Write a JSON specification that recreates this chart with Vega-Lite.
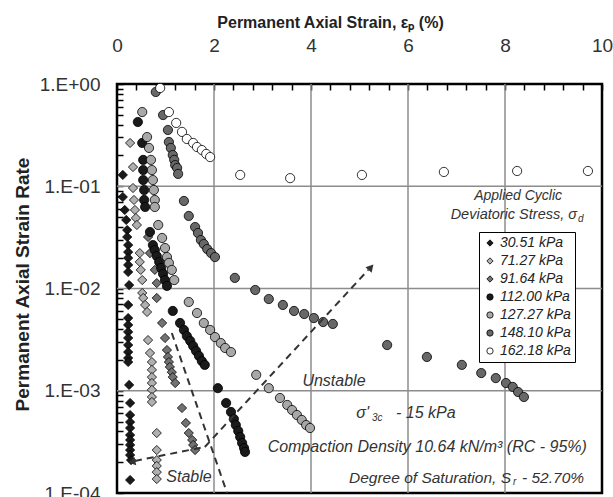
{
"$schema":"https://vega.github.io/schema/vega-lite/v6.json",
"width":485,"height":409,"autosize":"none",
"padding":{"left":117,"top":84,"right":11,"bottom":4},
"config":{"view":{"stroke":"#000","strokeWidth":2.5},"font":"Liberation Sans","axis":{"labelOverlap":false}},
"datasets":{
"pts":[
{"s":"30.51 kPa","x":0.12,"y":0.129},{"s":"30.51 kPa","x":0.12,"y":0.0785},{"s":"30.51 kPa","x":0.16,"y":0.0586},{"s":"30.51 kPa","x":0.19,"y":0.0468},{"s":"30.51 kPa","x":0.21,"y":0.0373},{"s":"30.51 kPa","x":0.21,"y":0.0319},{"s":"30.51 kPa","x":0.23,"y":0.0266},{"s":"30.51 kPa","x":0.23,"y":0.0227},{"s":"30.51 kPa","x":0.23,"y":0.0199},{"s":"30.51 kPa","x":0.23,"y":0.017},{"s":"30.51 kPa","x":0.23,"y":0.0145},{"s":"30.51 kPa","x":0.25,"y":0.0108},{"s":"30.51 kPa","x":0.23,"y":0.0069},{"s":"30.51 kPa","x":0.23,"y":0.00514},{"s":"30.51 kPa","x":0.23,"y":0.0044},{"s":"30.51 kPa","x":0.23,"y":0.00376},{"s":"30.51 kPa","x":0.23,"y":0.00328},{"s":"30.51 kPa","x":0.23,"y":0.0028},{"s":"30.51 kPa","x":0.23,"y":0.00239},{"s":"30.51 kPa","x":0.23,"y":0.00209},{"s":"30.51 kPa","x":0.23,"y":0.00191},{"s":"30.51 kPa","x":0.25,"y":0.00114},{"s":"30.51 kPa","x":0.27,"y":0.000759},{"s":"30.51 kPa","x":0.27,"y":0.000579},{"s":"30.51 kPa","x":0.27,"y":0.000494},{"s":"30.51 kPa","x":0.27,"y":0.000432},{"s":"30.51 kPa","x":0.27,"y":0.000369},{"s":"30.51 kPa","x":0.27,"y":0.00033},{"s":"30.51 kPa","x":0.27,"y":0.000295},{"s":"30.51 kPa","x":0.27,"y":0.000263},{"s":"30.51 kPa","x":0.27,"y":0.000235},{"s":"30.51 kPa","x":0.29,"y":0.00021},{"s":"30.51 kPa","x":0.27,"y":0.000134},
{"s":"71.27 kPa","x":0.27,"y":0.265},{"s":"71.27 kPa","x":0.33,"y":0.154},{"s":"71.27 kPa","x":0.33,"y":0.0961},{"s":"71.27 kPa","x":0.35,"y":0.0734},{"s":"71.27 kPa","x":0.37,"y":0.0586},{"s":"71.27 kPa","x":0.39,"y":0.0489},{"s":"71.27 kPa","x":0.41,"y":0.0418},{"s":"71.27 kPa","x":0.47,"y":0.0222},{"s":"71.27 kPa","x":0.47,"y":0.0182},{"s":"71.27 kPa","x":0.49,"y":0.0152},{"s":"71.27 kPa","x":0.52,"y":0.0121},{"s":"71.27 kPa","x":0.52,"y":0.00904},{"s":"71.27 kPa","x":0.54,"y":0.00808},{"s":"71.27 kPa","x":0.58,"y":0.0069},{"s":"71.27 kPa","x":0.62,"y":0.00589},{"s":"71.27 kPa","x":0.64,"y":0.00313},{"s":"71.27 kPa","x":0.68,"y":0.00234},{"s":"71.27 kPa","x":0.72,"y":0.00191},{"s":"71.27 kPa","x":0.72,"y":0.0016},{"s":"71.27 kPa","x":0.72,"y":0.00136},{"s":"71.27 kPa","x":0.72,"y":0.00119},{"s":"71.27 kPa","x":0.72,"y":0.00102},{"s":"71.27 kPa","x":0.72,"y":0.000869},{"s":"71.27 kPa","x":0.72,"y":0.000776},{"s":"71.27 kPa","x":0.82,"y":0.000386},{"s":"71.27 kPa","x":0.82,"y":0.000263},{"s":"71.27 kPa","x":0.82,"y":0.00021},{"s":"71.27 kPa","x":0.82,"y":0.000184},{"s":"71.27 kPa","x":0.82,"y":0.00016},{"s":"71.27 kPa","x":0.82,"y":0.000137},
{"s":"91.64 kPa","x":0.64,"y":0.0319},{"s":"91.64 kPa","x":0.68,"y":0.0222},{"s":"91.64 kPa","x":0.78,"y":0.0152},{"s":"91.64 kPa","x":0.82,"y":0.0113},{"s":"91.64 kPa","x":0.82,"y":0.00808},{"s":"91.64 kPa","x":0.93,"y":0.0046},{"s":"91.64 kPa","x":0.99,"y":0.00328},{"s":"91.64 kPa","x":1.03,"y":0.0025},{"s":"91.64 kPa","x":1.05,"y":0.00214},{"s":"91.64 kPa","x":1.07,"y":0.00191},{"s":"91.64 kPa","x":1.09,"y":0.00171},{"s":"91.64 kPa","x":1.13,"y":0.00152},{"s":"91.64 kPa","x":1.15,"y":0.00136},{"s":"91.64 kPa","x":1.2,"y":0.00119},{"s":"91.64 kPa","x":1.34,"y":0.000678},{"s":"91.64 kPa","x":1.42,"y":0.000484},{"s":"91.64 kPa","x":1.48,"y":0.000386},{"s":"91.64 kPa","x":1.55,"y":0.00033},{"s":"91.64 kPa","x":1.57,"y":0.000295},{"s":"91.64 kPa","x":1.61,"y":0.000263},
{"s":"112.00 kPa","x":0.43,"y":0.425},{"s":"112.00 kPa","x":0.52,"y":0.265},{"s":"112.00 kPa","x":0.54,"y":0.181},{"s":"112.00 kPa","x":0.54,"y":0.144},{"s":"112.00 kPa","x":0.54,"y":0.115},{"s":"112.00 kPa","x":0.56,"y":0.0919},{"s":"112.00 kPa","x":0.56,"y":0.0734},{"s":"112.00 kPa","x":0.58,"y":0.0627},{"s":"112.00 kPa","x":0.68,"y":0.0357},{"s":"112.00 kPa","x":0.74,"y":0.0266},{"s":"112.00 kPa","x":0.78,"y":0.0238},{"s":"112.00 kPa","x":0.82,"y":0.0208},{"s":"112.00 kPa","x":0.87,"y":0.0182},{"s":"112.00 kPa","x":0.91,"y":0.0159},{"s":"112.00 kPa","x":0.95,"y":0.0139},{"s":"112.00 kPa","x":0.99,"y":0.0121},{"s":"112.00 kPa","x":1.03,"y":0.0106},{"s":"112.00 kPa","x":1.15,"y":0.00603},{"s":"112.00 kPa","x":1.3,"y":0.0046},{"s":"112.00 kPa","x":1.38,"y":0.00393},{"s":"112.00 kPa","x":1.44,"y":0.00343},{"s":"112.00 kPa","x":1.51,"y":0.00307},{"s":"112.00 kPa","x":1.57,"y":0.00274},{"s":"112.00 kPa","x":1.63,"y":0.00245},{"s":"112.00 kPa","x":1.69,"y":0.00219},{"s":"112.00 kPa","x":1.75,"y":0.00195},{"s":"112.00 kPa","x":1.81,"y":0.00179},{"s":"112.00 kPa","x":2.08,"y":0.00106},{"s":"112.00 kPa","x":2.25,"y":0.000759},{"s":"112.00 kPa","x":2.35,"y":0.00062},{"s":"112.00 kPa","x":2.41,"y":0.000529},{"s":"112.00 kPa","x":2.45,"y":0.000462},{"s":"112.00 kPa","x":2.5,"y":0.000404},{"s":"112.00 kPa","x":2.54,"y":0.000353},{"s":"112.00 kPa","x":2.58,"y":0.000308},{"s":"112.00 kPa","x":2.62,"y":0.000275},{"s":"112.00 kPa","x":2.64,"y":0.000252},
{"s":"127.27 kPa","x":0.52,"y":0.532},{"s":"127.27 kPa","x":0.62,"y":0.303},{"s":"127.27 kPa","x":0.66,"y":0.237},{"s":"127.27 kPa","x":0.7,"y":0.181},{"s":"127.27 kPa","x":0.72,"y":0.144},{"s":"127.27 kPa","x":0.74,"y":0.115},{"s":"127.27 kPa","x":0.76,"y":0.0919},{"s":"127.27 kPa","x":0.78,"y":0.0734},{"s":"127.27 kPa","x":0.78,"y":0.0627},{"s":"127.27 kPa","x":0.85,"y":0.0418},{"s":"127.27 kPa","x":0.93,"y":0.0312},{"s":"127.27 kPa","x":0.99,"y":0.0249},{"s":"127.27 kPa","x":1.03,"y":0.0203},{"s":"127.27 kPa","x":1.07,"y":0.0178},{"s":"127.27 kPa","x":1.13,"y":0.0152},{"s":"127.27 kPa","x":1.18,"y":0.0121},{"s":"127.27 kPa","x":1.48,"y":0.00738},{"s":"127.27 kPa","x":1.65,"y":0.00576},{"s":"127.27 kPa","x":1.79,"y":0.0046},{"s":"127.27 kPa","x":1.92,"y":0.00393},{"s":"127.27 kPa","x":2.02,"y":0.00335},{"s":"127.27 kPa","x":2.14,"y":0.00293},{"s":"127.27 kPa","x":2.23,"y":0.00262},{"s":"127.27 kPa","x":2.35,"y":0.00239},{"s":"127.27 kPa","x":2.87,"y":0.00143},{"s":"127.27 kPa","x":3.13,"y":0.00106},{"s":"127.27 kPa","x":3.36,"y":0.000849},{"s":"127.27 kPa","x":3.51,"y":0.000726},{"s":"127.27 kPa","x":3.61,"y":0.000648},{"s":"127.27 kPa","x":3.71,"y":0.000579},{"s":"127.27 kPa","x":3.81,"y":0.000518},{"s":"127.27 kPa","x":3.9,"y":0.000462},{"s":"127.27 kPa","x":3.98,"y":0.000432},
{"s":"148.10 kPa","x":0.8,"y":0.835},{"s":"148.10 kPa","x":0.95,"y":0.497},{"s":"148.10 kPa","x":1.05,"y":0.355},{"s":"148.10 kPa","x":1.07,"y":0.271},{"s":"148.10 kPa","x":1.11,"y":0.237},{"s":"148.10 kPa","x":1.15,"y":0.202},{"s":"148.10 kPa","x":1.18,"y":0.181},{"s":"148.10 kPa","x":1.2,"y":0.161},{"s":"148.10 kPa","x":1.24,"y":0.151},{"s":"148.10 kPa","x":1.26,"y":0.132},{"s":"148.10 kPa","x":1.38,"y":0.0718},{"s":"148.10 kPa","x":1.48,"y":0.0512},{"s":"148.10 kPa","x":1.61,"y":0.0399},{"s":"148.10 kPa","x":1.67,"y":0.0349},{"s":"148.10 kPa","x":1.73,"y":0.0298},{"s":"148.10 kPa","x":1.79,"y":0.0272},{"s":"148.10 kPa","x":1.86,"y":0.0243},{"s":"148.10 kPa","x":1.94,"y":0.0222},{"s":"148.10 kPa","x":2.02,"y":0.0203},{"s":"148.10 kPa","x":2.43,"y":0.0127},{"s":"148.10 kPa","x":2.85,"y":0.00967},{"s":"148.10 kPa","x":3.13,"y":0.00789},{"s":"148.10 kPa","x":3.42,"y":0.0069},{"s":"148.10 kPa","x":3.65,"y":0.00603},{"s":"148.10 kPa","x":3.86,"y":0.00563},{"s":"148.10 kPa","x":4.06,"y":0.00514},{"s":"148.10 kPa","x":4.25,"y":0.0047},{"s":"148.10 kPa","x":4.45,"y":0.0045},{"s":"148.10 kPa","x":5.57,"y":0.0028},{"s":"148.10 kPa","x":6.39,"y":0.00214},{"s":"148.10 kPa","x":7.11,"y":0.00179},{"s":"148.10 kPa","x":7.51,"y":0.00149},{"s":"148.10 kPa","x":7.81,"y":0.00133},{"s":"148.10 kPa","x":8.02,"y":0.00119},{"s":"148.10 kPa","x":8.16,"y":0.00109},{"s":"148.10 kPa","x":8.27,"y":0.000972},{"s":"148.10 kPa","x":8.39,"y":0.000869},
{"s":"162.18 kPa","x":0.89,"y":0.914},{"s":"162.18 kPa","x":1.07,"y":0.532},{"s":"162.18 kPa","x":1.22,"y":0.416},{"s":"162.18 kPa","x":1.34,"y":0.34},{"s":"162.18 kPa","x":1.44,"y":0.29},{"s":"162.18 kPa","x":1.57,"y":0.265},{"s":"162.18 kPa","x":1.65,"y":0.242},{"s":"162.18 kPa","x":1.75,"y":0.226},{"s":"162.18 kPa","x":1.84,"y":0.207},{"s":"162.18 kPa","x":1.92,"y":0.193},{"s":"162.18 kPa","x":2.54,"y":0.129},{"s":"162.18 kPa","x":3.57,"y":0.12},{"s":"162.18 kPa","x":5.05,"y":0.129},{"s":"162.18 kPa","x":6.74,"y":0.138},{"s":"162.18 kPa","x":8.25,"y":0.141},{"s":"162.18 kPa","x":9.71,"y":0.141}
],
"grid":[{"g":"x2","x":2,"y":0.0001},{"g":"x2","x":2,"y":1},{"g":"x4","x":4,"y":0.0001},{"g":"x4","x":4,"y":1},{"g":"x6","x":6,"y":0.0001},{"g":"x6","x":6,"y":1},{"g":"x8","x":8,"y":0.0001},{"g":"x8","x":8,"y":1},{"g":"y1","x":0,"y":0.1},{"g":"y1","x":10,"y":0.1},{"g":"y2","x":0,"y":0.01},{"g":"y2","x":10,"y":0.01},{"g":"y3","x":0,"y":0.001},{"g":"y3","x":10,"y":0.001}],
"ln":[{"g":"a","x":2.27,"y":0.0001},{"g":"a","x":1.13,"y":0.00367},{"g":"b","x":1.81,"y":0.000282},{"g":"b","x":0.37,"y":0.000206},{"g":"c","x":1.81,"y":0.000282},{"g":"c","x":5.18,"y":0.0152}],
"ah1":[{"x":0.33,"y":0.000203}],
"ah2":[{"x":5.22,"y":0.0158}],
"c16":[{"t":"Unstable","x":4.474,"y":0.00125},{"t":"Compaction Density 10.64 kN/m³ (RC - 95%)","x":6.397,"y":0.000282},{"t":"Stable","x":1.485,"y":0.000143}],
"c14":[{"t":"Applied Cyclic","x":8.27,"y":0.0803}],
"r14":[{"t":"Deviatoric Stress, σ","x":9.485,"y":0.0523}],
"r16":[{"t":"σ'","x":5.196,"y":0.000605}],
"r155":[{"t":"Degree of Saturation, S","x":8.124,"y":0.00014}],
"sub":[{"t":"d","x":9.505,"y":0.0478},{"t":"3c","x":5.258,"y":0.000541},{"t":"r","x":8.165,"y":0.000128}],
"l16":[{"t":"- 15 kPa","x":5.753,"y":0.000605}],
"l155":[{"t":"- 52.70%","x":8.351,"y":0.00014}]
},
"encoding":{
"x":{"field":"x","type":"quantitative","scale":{"domain":[0,10],"nice":false,"zero":false},
"axis":{"orient":"top","title":"Permanent Axial Strain, εₚ (%)","values":[0,0.4,0.8,1.2,1.6,2,2.4,2.8,3.2,3.6,4,4.4,4.8,5.2,5.6,6,6.4,6.8,7.2,7.6,8,8.4,8.8,9.2,9.6,10],
"labelExpr":"abs(datum.value/2 - round(datum.value/2)) < 0.01 ? format(datum.value, 'd') : ''","labelOverlap":false,"labelFlush":false,"grid":false,"domain":false,"tickSize":-6,"tickWidth":1.5,"tickColor":"#000","labelFontSize":19,"labelColor":"#333","labelPadding":35,"titleFontSize":16,"titleFontWeight":"bold","titleColor":"#222","titleX":213,"titleY":-62,"titleAlign":"center","titleBaseline":"middle"}},
"y":{"field":"y","type":"quantitative","scale":{"type":"log","domain":[0.0001,1],"nice":false},
"axis":{"title":"Permanent Axial Strain Rate","values":[0.0001,0.0002,0.0003,0.0004,0.0005,0.0006,0.0007,0.0008,0.0009,0.001,0.002,0.003,0.004,0.005,0.006,0.007,0.008,0.009,0.01,0.02,0.03,0.04,0.05,0.06,0.07,0.08,0.09,0.1,0.2,0.3,0.4,0.5,0.6,0.7,0.8,0.9,1],
"labelExpr":"datum.value > 0.99 ? '1.E+00' : (abs(log(datum.value)/LN10 - round(log(datum.value)/LN10)) < 0.001 ? '1.E-0' + format(-round(log(datum.value)/LN10), 'd') : '')","labelOverlap":false,"labelFlush":false,"grid":false,"domain":false,"tickSize":-6,"tickWidth":1.5,"tickColor":"#000","labelFontSize":19,"labelColor":"#333","labelPadding":23,"titleFontSize":19,"titleFontWeight":"bold","titleColor":"#222","titleX":-95,"titleY":200,"titleAlign":"center","titleBaseline":"middle","titleAngle":270}}
},
"layer":[
{"data":{"name":"grid"},"mark":{"type":"line","stroke":"#8c8c8c","strokeWidth":1.5},"encoding":{"detail":{"field":"g"}}},
{"data":{"name":"pts"},"mark":{"type":"point","filled":true,"stroke":"#000","strokeWidth":0.8,"size":85,"opacity":1},
"encoding":{
"color":{"field":"s","type":"nominal","sort":null,"scale":{"domain":["30.51 kPa","71.27 kPa","91.64 kPa","112.00 kPa","127.27 kPa","148.10 kPa","162.18 kPa"],"range":["#1a1a1a","#b0b0b0","#727272","#1a1a1a","#a8a8a8","#686868","#ffffff"]},
"legend":{"title":null,"orient":"none","legendX":362,"legendY":148,"labelFontStyle":"italic","labelFontSize":14,"labelColor":"#222","symbolSize":40,"rowPadding":4,"padding":4,"strokeColor":"#000","fillColor":"#fff","symbolStrokeColor":"#000","symbolStrokeWidth":0.8,"labelOffset":3}},
"shape":{"field":"s","type":"nominal","sort":null,"scale":{"domain":["30.51 kPa","71.27 kPa","91.64 kPa","112.00 kPa","127.27 kPa","148.10 kPa","162.18 kPa"],"range":["diamond","diamond","diamond","circle","circle","circle","circle"]},
"legend":{"title":null,"orient":"none","legendX":362,"legendY":148,"labelFontStyle":"italic","labelFontSize":14,"labelColor":"#222","symbolSize":40,"rowPadding":4,"padding":4,"strokeColor":"#000","fillColor":"#fff","symbolStrokeColor":"#000","symbolStrokeWidth":0.8,"labelOffset":3}}
}},
{"data":{"name":"ln"},"mark":{"type":"line","stroke":"#333","strokeWidth":2,"strokeDash":[7,5],"clip":true},"encoding":{"detail":{"field":"g"}}},
{"data":{"name":"ah1"},"mark":{"type":"point","shape":"triangle","filled":true,"color":"#333","size":70,"angle":258,"opacity":1}},
{"data":{"name":"ah2"},"mark":{"type":"point","shape":"triangle","filled":true,"color":"#333","size":70,"angle":42,"opacity":1}},
{"data":{"name":"c16"},"mark":{"type":"text","fontStyle":"italic","fontSize":16,"align":"center","baseline":"middle","color":"#333"},"encoding":{"text":{"field":"t"}}},
{"data":{"name":"c14"},"mark":{"type":"text","fontStyle":"italic","fontSize":14,"align":"center","baseline":"middle","color":"#333"},"encoding":{"text":{"field":"t"}}},
{"data":{"name":"r14"},"mark":{"type":"text","fontStyle":"italic","fontSize":14.5,"align":"right","baseline":"middle","color":"#333"},"encoding":{"text":{"field":"t"}}},
{"data":{"name":"r16"},"mark":{"type":"text","fontStyle":"italic","fontSize":16,"align":"right","baseline":"middle","color":"#333"},"encoding":{"text":{"field":"t"}}},
{"data":{"name":"r155"},"mark":{"type":"text","fontStyle":"italic","fontSize":15.5,"align":"right","baseline":"middle","color":"#333"},"encoding":{"text":{"field":"t"}}},
{"data":{"name":"sub"},"mark":{"type":"text","fontStyle":"italic","fontSize":10,"align":"left","baseline":"middle","color":"#333"},"encoding":{"text":{"field":"t"}}},
{"data":{"name":"l16"},"mark":{"type":"text","fontStyle":"italic","fontSize":16,"align":"left","baseline":"middle","color":"#333"},"encoding":{"text":{"field":"t"}}},
{"data":{"name":"l155"},"mark":{"type":"text","fontStyle":"italic","fontSize":15.5,"align":"left","baseline":"middle","color":"#333"},"encoding":{"text":{"field":"t"}}}
]
}
